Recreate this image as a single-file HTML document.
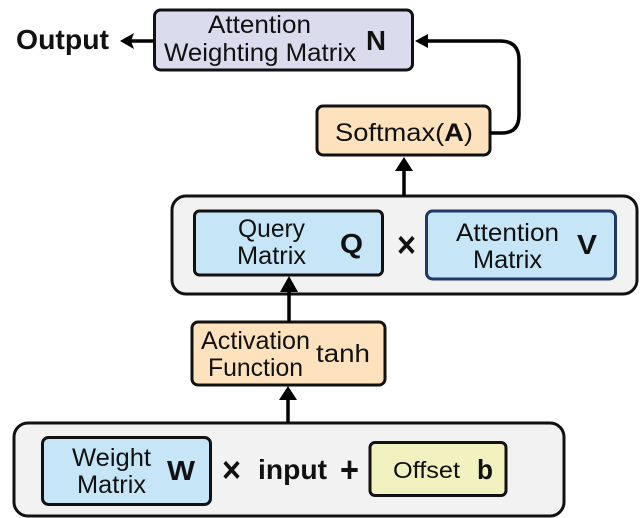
<!DOCTYPE html>
<html><head><meta charset="utf-8"><style>
html,body{margin:0;padding:0;background:#fff}
svg{display:block}
text{font-family:"Liberation Sans",sans-serif;font-size:25px;fill:#111}
.b{font-weight:bold;font-size:28px}
.x{font-weight:bold;font-size:36px}
</style></head><body>
<svg width="640" height="518" viewBox="0 0 640 518" xmlns="http://www.w3.org/2000/svg">
<g stroke="#111" stroke-width="3">
<rect x="154.5" y="10" width="258" height="60" rx="6" fill="#dadcee"/>
<rect x="317" y="106" width="173" height="49" rx="6" fill="#fde2bd"/>
<rect x="172" y="196" width="465" height="98" rx="14" fill="#f2f2f2"/>
<rect x="194.5" y="211" width="188" height="64" rx="5" fill="#c6e6f7"/>
<rect x="426.5" y="211" width="189" height="68" rx="6" fill="#c6e6f7" stroke="#1f3864"/>
<rect x="192" y="322" width="193" height="63" rx="6" fill="#fde2bd"/>
<rect x="14" y="423" width="550" height="93" rx="14" fill="#f2f2f2"/>
<rect x="42.5" y="437.500" width="168" height="67" rx="6" fill="#c6e6f7"/>
<rect x="370" y="442.500" width="136" height="53" rx="5" fill="#f2f2c0"/>
</g>
<g fill="none" stroke="#000" stroke-width="3.500">
<path d="M154 41H130"/>
<path d="M490 133H502Q519 133 519 115V60Q519 41 500 41H425"/>
<path d="M404 196V168"/>
<path d="M289 322V290"/>
<path d="M288 423V400"/>
</g>
<g fill="#000">
<path d="M120 41L134 33L131 41L134 49Z"/>
<path d="M415 41L428 34L428 48Z"/>
<path d="M404 157L413 171L395 171Z"/>
<path d="M289 276L298 292L280 292Z"/>
<path d="M288 386L297 400L279 400Z"/>
</g>
<text class="b" x="16" y="49" textLength="93" lengthAdjust="spacingAndGlyphs">Output</text>
<text x="208" y="33" textLength="103" lengthAdjust="spacingAndGlyphs">Attention</text>
<text x="164" y="61" textLength="192" lengthAdjust="spacingAndGlyphs">Weighting Matrix</text>
<text class="b" x="366" y="50" textLength="20" lengthAdjust="spacingAndGlyphs">N</text>
<text x="335" y="141" textLength="138" lengthAdjust="spacingAndGlyphs">Softmax(<tspan font-weight="bold">A</tspan>)</text>
<text x="238" y="237" textLength="67" lengthAdjust="spacingAndGlyphs">Query</text>
<text x="237" y="264" textLength="69" lengthAdjust="spacingAndGlyphs">Matrix</text>
<text class="b" x="340" y="253" textLength="23" lengthAdjust="spacingAndGlyphs">Q</text>
<text class="x" x="397" y="257" textLength="19" lengthAdjust="spacingAndGlyphs">×</text>
<text x="456" y="241" textLength="103" lengthAdjust="spacingAndGlyphs">Attention</text>
<text x="473" y="268" textLength="69" lengthAdjust="spacingAndGlyphs">Matrix</text>
<text class="b" x="577" y="254" textLength="20" lengthAdjust="spacingAndGlyphs">V</text>
<text x="201" y="349" textLength="109" lengthAdjust="spacingAndGlyphs">Activation</text>
<text x="208" y="376" textLength="95" lengthAdjust="spacingAndGlyphs">Function</text>
<text x="316" y="362" textLength="54" lengthAdjust="spacingAndGlyphs">tanh</text>
<text x="72" y="466" textLength="79" lengthAdjust="spacingAndGlyphs">Weight</text>
<text x="77" y="493" textLength="69" lengthAdjust="spacingAndGlyphs">Matrix</text>
<text class="b" x="167" y="480" textLength="28" lengthAdjust="spacingAndGlyphs">W</text>
<text class="x" x="222" y="482" textLength="19" lengthAdjust="spacingAndGlyphs">×</text>
<text class="b" x="258" y="479" textLength="69" lengthAdjust="spacingAndGlyphs">input</text>
<text class="x" x="340" y="482" textLength="19" lengthAdjust="spacingAndGlyphs">+</text>
<text style="font-size:23px" x="393" y="478" textLength="67" lengthAdjust="spacingAndGlyphs">Offset</text>
<text class="b" x="477" y="479" textLength="16" lengthAdjust="spacingAndGlyphs">b</text>
</svg>
</body></html>
